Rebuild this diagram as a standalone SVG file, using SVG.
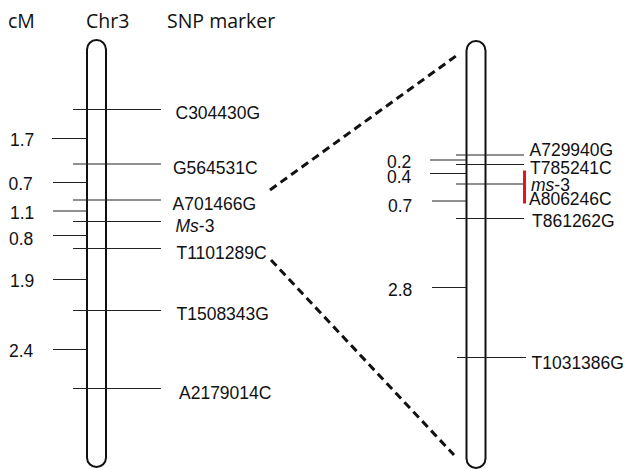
<svg xmlns="http://www.w3.org/2000/svg" width="628" height="469" viewBox="0 0 628 469">
<style>
.hdr{font-family:"Open Sans","Noto Sans",sans-serif;font-size:19.5px;fill:#111}
.t{font-family:"Liberation Sans",Arial,sans-serif;font-size:17.5px;fill:#111}
.chr{fill:#fff;stroke:#111;stroke-width:2}
.m{stroke:#222;stroke-width:1.2;fill:none}
.dash{stroke:#111;stroke-width:3;stroke-dasharray:8 5;fill:none}
</style>
<rect width="628" height="469" fill="#fff"/>
<g id="headers">
<text class="hdr" x="8" y="28">cM</text>
<text class="hdr" x="86" y="28">Chr3</text>
<text class="hdr" x="167" y="28">SNP marker</text>
</g>
<g id="chr3-left">
<rect class="chr" x="87" y="40" width="19" height="427" rx="9.5"/>
<g id="left-markers">
<line class="m" x1="73" y1="109.5" x2="161" y2="109.5"/>
<line class="m" x1="73" y1="164" x2="161" y2="164"/>
<line class="m" x1="73" y1="200" x2="161" y2="200"/>
<line class="m" x1="73" y1="221.5" x2="161" y2="221.5"/>
<line class="m" x1="73" y1="248.5" x2="161" y2="248.5"/>
<line class="m" x1="73" y1="310.5" x2="161" y2="310.5"/>
<line class="m" x1="73" y1="388.5" x2="161" y2="388.5"/>
<text class="t" x="175.5" y="119">C304430G</text>
<text class="t" x="173" y="174">G564531C</text>
<text class="t" x="172.5" y="210">A701466G</text>
<text class="t" x="175.5" y="232"><tspan font-style="italic">Ms</tspan>-3</text>
<text class="t" x="176.5" y="259">T1101289C</text>
<text class="t" x="176.5" y="320">T1508343G</text>
<text class="t" x="179" y="399">A2179014C</text>
</g>
<g id="left-cm">
<line class="m" x1="52" y1="138.5" x2="87" y2="138.5"/>
<line class="m" x1="53" y1="182.5" x2="87" y2="182.5"/>
<line class="m" x1="53" y1="211" x2="87" y2="211"/>
<line class="m" x1="53" y1="235.5" x2="87" y2="235.5"/>
<line class="m" x1="53" y1="279.5" x2="87" y2="279.5"/>
<line class="m" x1="53" y1="349.5" x2="87" y2="349.5"/>
<text class="t" x="10" y="146">1.7</text>
<text class="t" x="8.5" y="190">0.7</text>
<text class="t" x="10" y="219">1.1</text>
<text class="t" x="9" y="245">0.8</text>
<text class="t" x="10" y="287">1.9</text>
<text class="t" x="9" y="357">2.4</text>
</g>
</g>
<g id="connectors">
<line class="dash" x1="270" y1="190" x2="456" y2="56"/>
<line class="dash" x1="271" y1="260" x2="454" y2="455"/>
</g>
<g id="chr3-right">
<rect class="chr" x="466.5" y="41" width="19" height="427" rx="9.5"/>
<g id="right-markers">
<line class="m" x1="456" y1="155" x2="524" y2="155"/>
<line class="m" x1="456" y1="164.5" x2="524" y2="164.5"/>
<line class="m" x1="456" y1="184" x2="524" y2="184"/>
<line class="m" x1="456" y1="218.5" x2="524" y2="218.5"/>
<line class="m" x1="457" y1="357.5" x2="526" y2="357.5"/>
<text class="t" x="529.5" y="156">A729940G</text>
<text class="t" x="530" y="173.5">T785241C</text>
<text class="t" x="531" y="191"><tspan font-style="italic">ms</tspan>-3</text>
<text class="t" x="529" y="205">A806246C</text>
<text class="t" x="532" y="227">T861262G</text>
<text class="t" x="531.5" y="368.5">T1031386G</text>
<line x1="524.5" y1="170.5" x2="524.5" y2="203.5" stroke="#e8141c" stroke-width="3"/>
</g>
<g id="right-cm">
<line class="m" x1="430" y1="160" x2="466" y2="160"/>
<line class="m" x1="430" y1="173.5" x2="466" y2="173.5"/>
<line class="m" x1="432" y1="201" x2="466" y2="201"/>
<line class="m" x1="432" y1="287.5" x2="466" y2="287.5"/>
<text class="t" x="387" y="168">0.2</text>
<text class="t" x="387" y="182.5">0.4</text>
<text class="t" x="388" y="212">0.7</text>
<text class="t" x="388" y="296">2.8</text>
</g>
</g>
</svg>
